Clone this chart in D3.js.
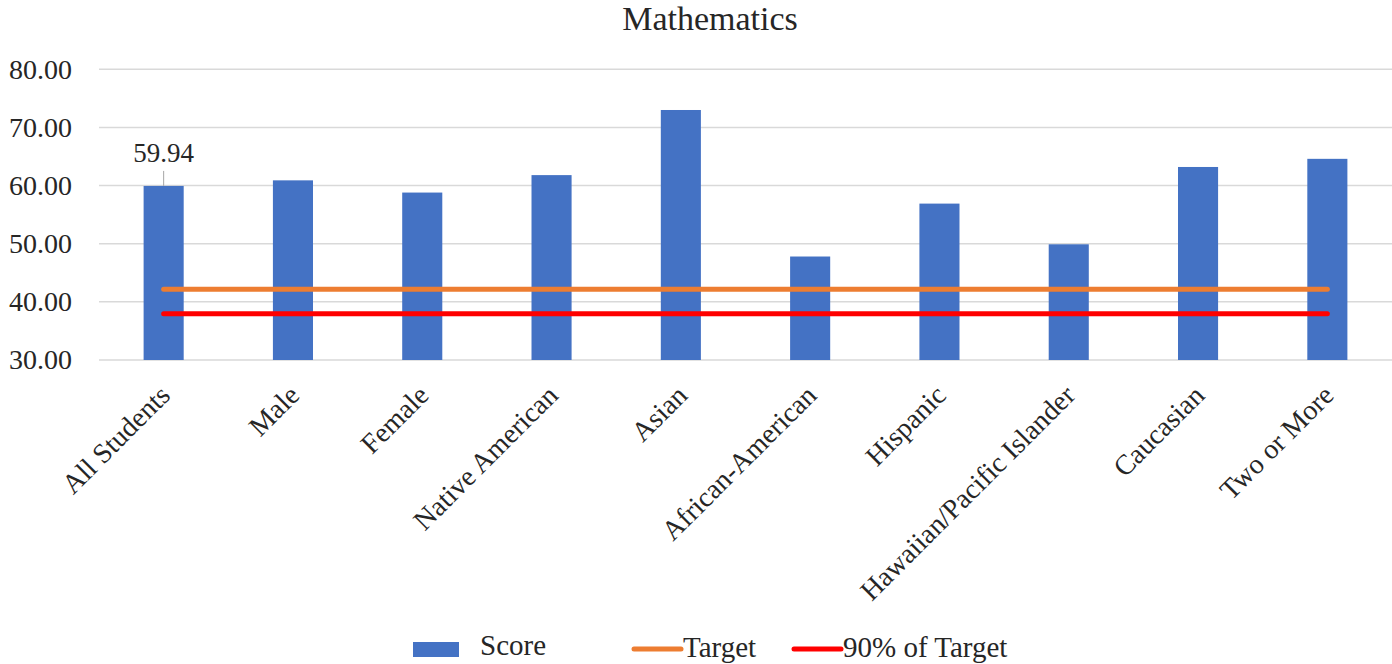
<!DOCTYPE html>
<html>
<head>
<meta charset="utf-8">
<script src="https://cdn.jsdelivr.net/npm/d3@7"></script>
<style>
  body { margin: 0; background: #fff; }
  text { font-family: 'Liberation Serif', 'Times New Roman', serif; fill: #262626; }
</style>
</head>
<body>
<div id="chart"></div>
<script>
let categories = ['All Students', 'Male', 'Female', 'Native American', 'Asian',
  'African-American', 'Hispanic', 'Hawaiian/Pacific Islander', 'Caucasian', 'Two or More']
let scores = [59.94, 60.9, 58.8, 61.8, 73.0, 47.8, 56.9, 49.9, 63.2, 64.6]
let target = [42.15, 42.15, 42.15, 42.15, 42.15, 42.15, 42.15, 42.15, 42.15, 42.15]
let target90 = [37.94, 37.94, 37.94, 37.94, 37.94, 37.94, 37.94, 37.94, 37.94, 37.94]
let yTicks = [30, 40, 50, 60, 70, 80]
let labelled = [0] // only the first bar carries a data label

let width = 1392
let height = 664
let plotLeft = 99
let plotRight = 1392
let plotTop = 69.3
let plotBottom = 360

let svg = d3
  .select('#chart')
  .append('svg')
  .attr('width', width)
  .attr('height', height)

let x = d3.scaleBand().domain(categories).range([plotLeft, plotRight]).paddingInner(0.69).paddingOuter(0.345)
let y = d3.scaleLinear().domain([30, 80]).range([plotBottom, plotTop])

// title
svg.append('text')
  .attr('x', 710)
  .attr('y', 30)
  .attr('text-anchor', 'middle')
  .style('font-size', '34px')
  .text('Mathematics')

// gridlines
svg.append('g')
  .selectAll('line')
  .data(yTicks)
  .enter()
  .append('line')
  .attr('x1', plotLeft)
  .attr('x2', plotRight)
  .attr('y1', function (d) { return y(d) })
  .attr('y2', function (d) { return y(d) })
  .style('stroke', '#d9d9d9')
  .style('stroke-width', 1.5)

// y axis, no domain line
let yAxis = svg.append('g')
  .attr('transform', 'translate(' + plotLeft + ',0)')
  .call(d3.axisLeft(y).tickValues(yTicks).tickFormat(d3.format('.2f')).tickSize(0).tickPadding(27))
yAxis.attr('font-family', null).attr('font-size', null)
yAxis.select('.domain').remove()
yAxis.selectAll('text')
  .style('font-size', '28px')
  .attr('fill', '#262626')

// bars
svg.append('g')
  .selectAll('rect')
  .data(scores)
  .enter()
  .append('rect')
  .attr('x', function (d, i) { return x(categories[i]) })
  .attr('y', function (d) { return y(d) })
  .attr('width', x.bandwidth())
  .attr('height', function (d) { return y(30) - y(d) })
  .style('fill', '#4472C4')

// target lines
let line = d3.line()
  .x(function (d, i) { return x(categories[i]) + x.bandwidth() / 2 })
  .y(function (d) { return y(d) })

svg.append('path')
  .datum(target)
  .attr('d', line)
  .style('fill', 'none')
  .style('stroke', '#ED7D31')
  .style('stroke-width', 5)
  .style('stroke-linecap', 'round')

svg.append('path')
  .datum(target90)
  .attr('d', line)
  .style('fill', 'none')
  .style('stroke', '#FF0000')
  .style('stroke-width', 5)
  .style('stroke-linecap', 'round')

// data label with leader line
labelled.forEach(function (i) {
  let cx = x(categories[i]) + x.bandwidth() / 2
  svg.append('line')
    .attr('x1', cx).attr('x2', cx)
    .attr('y1', y(scores[i]) - 15).attr('y2', y(scores[i]))
    .style('stroke', '#a6a6a6')
    .style('stroke-width', 1)
  svg.append('text')
    .attr('x', cx)
    .attr('y', y(scores[i]) - 24)
    .attr('text-anchor', 'middle')
    .style('font-size', '27px')
    .text(scores[i].toFixed(2))
})

// category labels rotated
svg.append('g')
  .selectAll('text')
  .data(categories)
  .enter()
  .append('text')
  .attr('transform', function (d) {
    return 'translate(' + (x(d) + x.bandwidth() / 2 + 8) + ',397) rotate(-45)'
  })
  .attr('text-anchor', 'end')
  .style('font-size', '28px')
  .text(function (d) { return d })

// legend
let legend = svg.append('g')
legend.append('rect')
  .attr('x', 413).attr('y', 642)
  .attr('width', 46).attr('height', 15)
  .style('fill', '#4472C4')
legend.append('text')
  .attr('x', 480).attr('y', 655)
  .style('font-size', '29px')
  .text('Score')
legend.append('line')
  .attr('x1', 634).attr('x2', 681)
  .attr('y1', 649).attr('y2', 649)
  .style('stroke', '#ED7D31').style('stroke-width', 5).style('stroke-linecap', 'round')
legend.append('text')
  .attr('x', 683).attr('y', 657)
  .style('font-size', '29px')
  .text('Target')
legend.append('line')
  .attr('x1', 794).attr('x2', 841)
  .attr('y1', 649).attr('y2', 649)
  .style('stroke', '#FF0000').style('stroke-width', 5).style('stroke-linecap', 'round')
legend.append('text')
  .attr('x', 843).attr('y', 657)
  .style('font-size', '29px')
  .text('90% of Target')
</script>
</body>
</html>
